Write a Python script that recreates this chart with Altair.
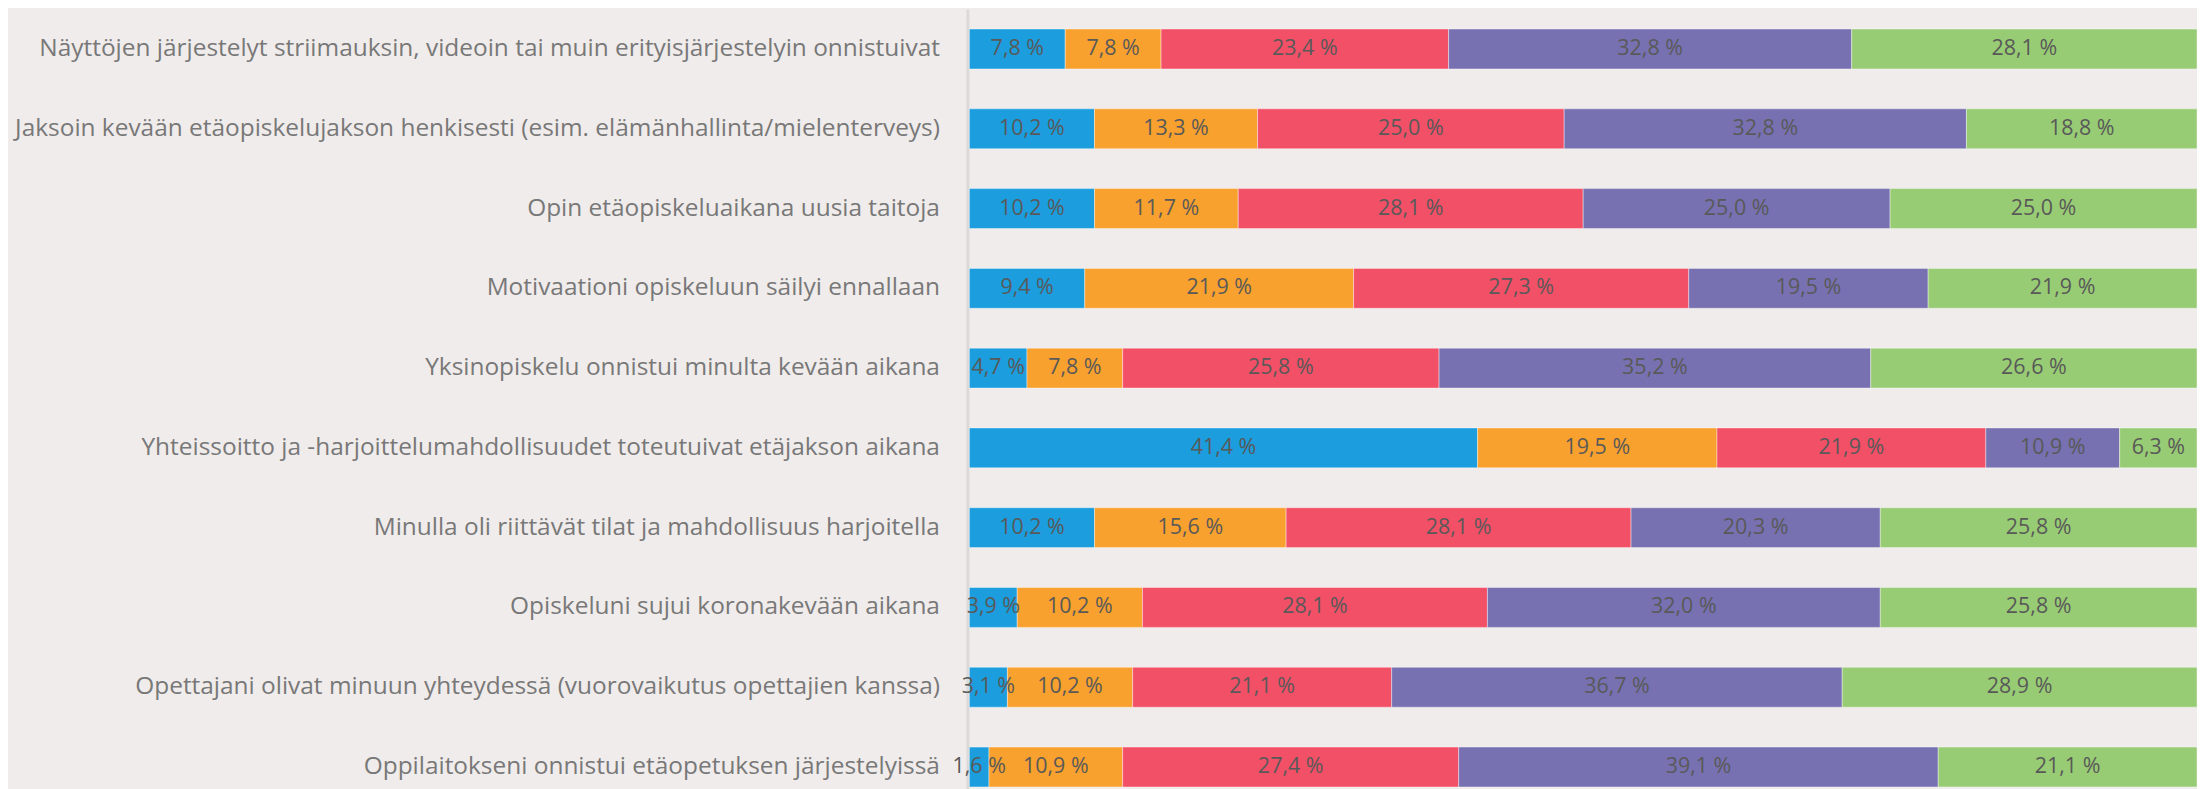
import altair as alt
import pandas as pd

items = [
    "Näyttöjen järjestelyt striimauksin, videoin tai muin erityisjärjestelyin onnistuivat",
    "Jaksoin kevään etäopiskelujakson henkisesti (esim. elämänhallinta/mielenterveys)",
    "Opin etäopiskeluaikana uusia taitoja",
    "Motivaationi opiskeluun säilyi ennallaan",
    "Yksinopiskelu onnistui minulta kevään aikana",
    "Yhteissoitto ja -harjoittelumahdollisuudet toteutuivat etäjakson aikana",
    "Minulla oli riittävät tilat ja mahdollisuus harjoitella",
    "Opiskeluni sujui koronakevään aikana",
    "Opettajani olivat minuun yhteydessä (vuorovaikutus opettajien kanssa)",
    "Oppilaitokseni onnistui etäopetuksen järjestelyissä",
]

series = ["1", "2", "3", "4", "5"]
colors = ["#1B9DDE", "#F9A12E", "#F25067", "#7771B1", "#98CC74"]

s1 = [7.8, 10.2, 10.2, 9.4, 4.7, 41.4, 10.2, 3.9, 3.1, 1.6]
s2 = [7.8, 13.3, 11.7, 21.9, 7.8, 19.5, 15.6, 10.2, 10.2, 10.9]
s3 = [23.4, 25.0, 28.1, 27.3, 25.8, 21.9, 28.1, 28.1, 21.1, 27.4]
s4 = [32.8, 32.8, 25.0, 19.5, 35.2, 10.9, 20.3, 32.0, 36.7, 39.1]
s5 = [28.1, 18.8, 25.0, 21.9, 26.6, 6.3, 25.8, 25.8, 28.9, 21.1]

rows = []
for i, item in enumerate(items):
    for k, vals in enumerate([s1, s2, s3, s4, s5]):
        v = vals[i]
        rows.append({
            "item": item,
            "series": series[k],
            "order": k,
            "value": v,
            "label": f"{v:.1f} %".replace(".", ","),
        })
df = pd.DataFrame(rows)

base = alt.Chart(df).transform_stack(
    stack="value",
    as_=["x0", "x1"],
    groupby=["item"],
    sort=[alt.SortField("order")],
    offset="normalize",
).transform_calculate(mid="(datum.x0 + datum.x1) / 2")

xscale = alt.Scale(domain=[0, 1], nice=False, zero=True)
yscale = alt.Scale(paddingInner=0.5, paddingOuter=0.25)

yaxis = alt.Axis(
    title=None,
    labelFont="Open Sans",
    labelFontSize=24.5,
    labelColor="#787878",
    labelPadding=28,
    labelLimit=1200,
    ticks=False,
    offset=2,
    domainColor="#DCDAD9",
    domainWidth=3,
    grid=False,
)

bars = base.mark_bar(stroke="#FFFFFF", strokeWidth=0.8, strokeOpacity=0.5).encode(
    x=alt.X("x0:Q", scale=xscale, axis=None),
    x2="x1:Q",
    y=alt.Y("item:N", sort=items, scale=yscale, axis=yaxis),
    color=alt.Color("series:N", scale=alt.Scale(domain=series, range=colors), legend=None),
)

text = base.mark_text(font="Open Sans", fontSize=21.5, color="#595959").encode(
    x=alt.X("mid:Q", scale=xscale, axis=None),
    y=alt.Y("item:N", sort=items, scale=yscale),
    text="label:N",
)

chart = alt.layer(bars, text).properties(
    width=1231,
    height=800,
    background="#F0ECEB",
    padding={"left": 964, "top": 0, "right": 0, "bottom": 0},
    autosize=alt.AutoSizeParams(type="none"),
).configure_view(stroke=None)

chart.save("out.html", embed_options={"renderer": "svg", "actions": False})
